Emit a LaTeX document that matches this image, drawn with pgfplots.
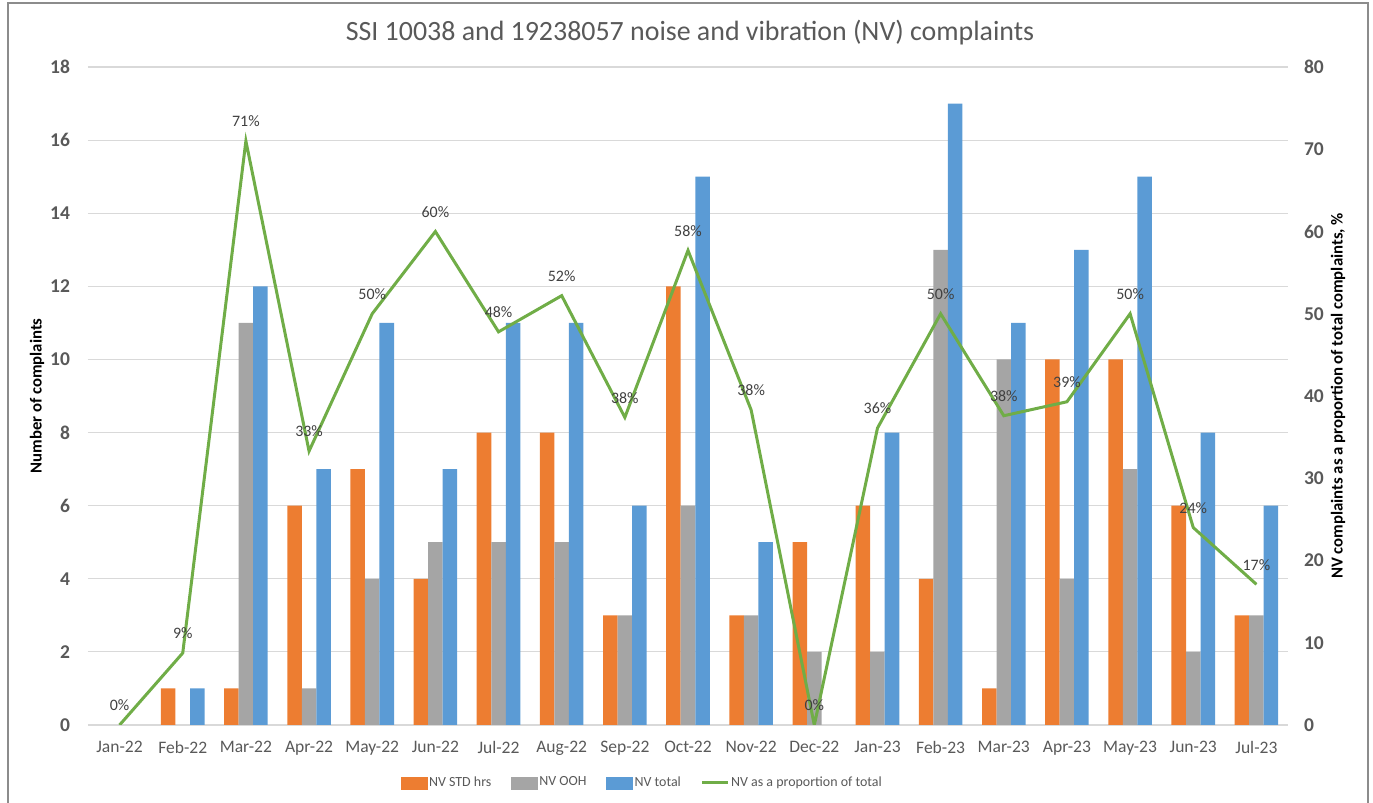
\documentclass[border=0pt]{standalone}
\usepackage{pgfplots}
\pgfplotsset{compat=1.18}
\usepackage{fontspec}
\setmainfont{Carlito}
\definecolor{cOrange}{HTML}{ED7D31}
\definecolor{cGray}{HTML}{A5A5A5}
\definecolor{cBlue}{HTML}{5B9BD5}
\definecolor{cGreen}{HTML}{70AD47}
\definecolor{cText}{HTML}{595959}
\definecolor{cGrid}{HTML}{D9D9D9}
\definecolor{cLabel}{HTML}{404040}
\definecolor{cFrame}{HTML}{8C8C8C}

\pgfplotstableread{
x std ooh total
0 0 0 0
1 1 0 1
2 1 11 12
3 6 1 7
4 7 4 11
5 4 5 7
6 8 5 11
7 8 5 11
8 3 3 6
9 12 6 15
10 3 3 5
11 5 2 0
12 6 2 8
13 4 13 17
14 1 10 11
15 10 4 13
16 10 7 15
17 6 2 8
18 3 3 6
}\bars

\pgfplotsset{
  myaxis/.style={
    scale only axis, width=600bp, height=329bp,
    at={(44bp,39bp)}, anchor=south west,
    xmin=-0.5, xmax=18.5,
    axis line style={draw=none},
    major tick length=0pt,
    /pgf/number format/assume math mode=true,
  }
}

\begin{document}
\begin{tikzpicture}
\path[use as bounding box] (0,0) rectangle (686.5bp,401.5bp);
\draw[cFrame, line width=0.6bp] (4bp,0bp) -- (4bp,400bp) -- (684bp,400bp) -- (684bp,0bp);
\node[font=\fontsize{14}{16}\selectfont, text=cText, anchor=center] at (345bp,385bp) {SSI 10038 and 19238057 noise and vibration (NV) complaints};

\begin{axis}[myaxis,
  ymin=0, ymax=18, ytick={0,2,...,18},
  ymajorgrids, grid style={cGrid, line width=0.6bp},
  xtick={0,...,18},
  xticklabels={Jan-22,Feb-22,Mar-22,Apr-22,May-22,Jun-22,Jul-22,Aug-22,Sep-22,Oct-22,Nov-22,Dec-22,Jan-23,Feb-23,Mar-23,Apr-23,May-23,Jun-23,Jul-23},
  xticklabel style={font=\fontsize{8.8}{10}\selectfont, text=cText, yshift=-4.5bp},
  yticklabel style={font=\fontsize{9.8}{11}\selectfont\bfseries, text=cText, xshift=-5.5bp},
  ylabel={Number of complaints},
  ylabel style={font=\fontsize{8.4}{10}\selectfont\bfseries, at={(axis description cs:-0.0425,0.5)}, anchor=center, rotate=0},
]
\addplot[ybar, bar width=0.23, bar shift=-0.23, fill=cOrange, draw=none] table[x=x,y=std] {\bars};
\addplot[ybar, bar width=0.23, bar shift=0, fill=cGray, draw=none] table[x=x,y=ooh] {\bars};
\addplot[ybar, bar width=0.23, bar shift=0.23, fill=cBlue, draw=none] table[x=x,y=total] {\bars};
\end{axis}

\begin{axis}[myaxis,
  axis y line*=right, axis x line=none,
  ymin=0, ymax=80, ytick={0,10,...,80},
  yticklabel style={font=\fontsize{9.8}{11}\selectfont\bfseries, text=cText, xshift=4.5bp},
  ylabel={NV complaints as a proportion of total complaints, \%},
  ylabel style={font=\fontsize{8.4}{10}\selectfont\bfseries, at={(axis description cs:1.0417,0.5)}, anchor=center, rotate=0},
  legend columns=4,
  legend style={at={(axis description cs:0.4617,-0.088)}, anchor=center, draw=none,
    font=\fontsize{7}{8}\selectfont, text=cText,
    nodes={inner sep=0.8bp},
    /tikz/every even column/.append style={column sep=9bp}},
]
\addlegendimage{legend image code/.code={\fill[cOrange] (0bp,-3bp) rectangle (13bp,3bp);}}
\addlegendentry{NV STD hrs}
\addlegendimage{legend image code/.code={\fill[cGray] (0bp,-3bp) rectangle (13bp,3bp);}}
\addlegendentry{NV OOH}
\addlegendimage{legend image code/.code={\fill[cBlue] (0bp,-3bp) rectangle (13bp,3bp);}}
\addlegendentry{NV total}
\addplot[cGreen, line width=1.5bp, mark=none,
  point meta=explicit symbolic,
  nodes near coords,
  nodes near coords style={font=\fontsize{8}{9}\selectfont, text=cLabel, anchor=south, yshift=3bp},
  legend image code/.code={\draw[cGreen, line width=1.5bp] (0bp,0bp) -- (13bp,0bp);}]
coordinates {
(0,0) [0\%]
(1,8.75) [9\%]
(2,71) [71\%]
(3,33.3) [33\%]
(4,50) [50\%]
(5,60) [60\%]
(6,47.8) [48\%]
(7,52.2) [52\%]
(8,37.4) [38\%]
(9,57.7) [58\%]
(10,38.3) [38\%]
(11,0) [0\%]
(12,36.1) [36\%]
(13,50) [50\%]
(14,37.6) [38\%]
(15,39.3) [39\%]
(16,50) [50\%]
(17,24) [24\%]
(18,17.1) [17\%]
};
\addlegendentry{NV as a proportion of total}
\end{axis}
\end{tikzpicture}
\end{document}
